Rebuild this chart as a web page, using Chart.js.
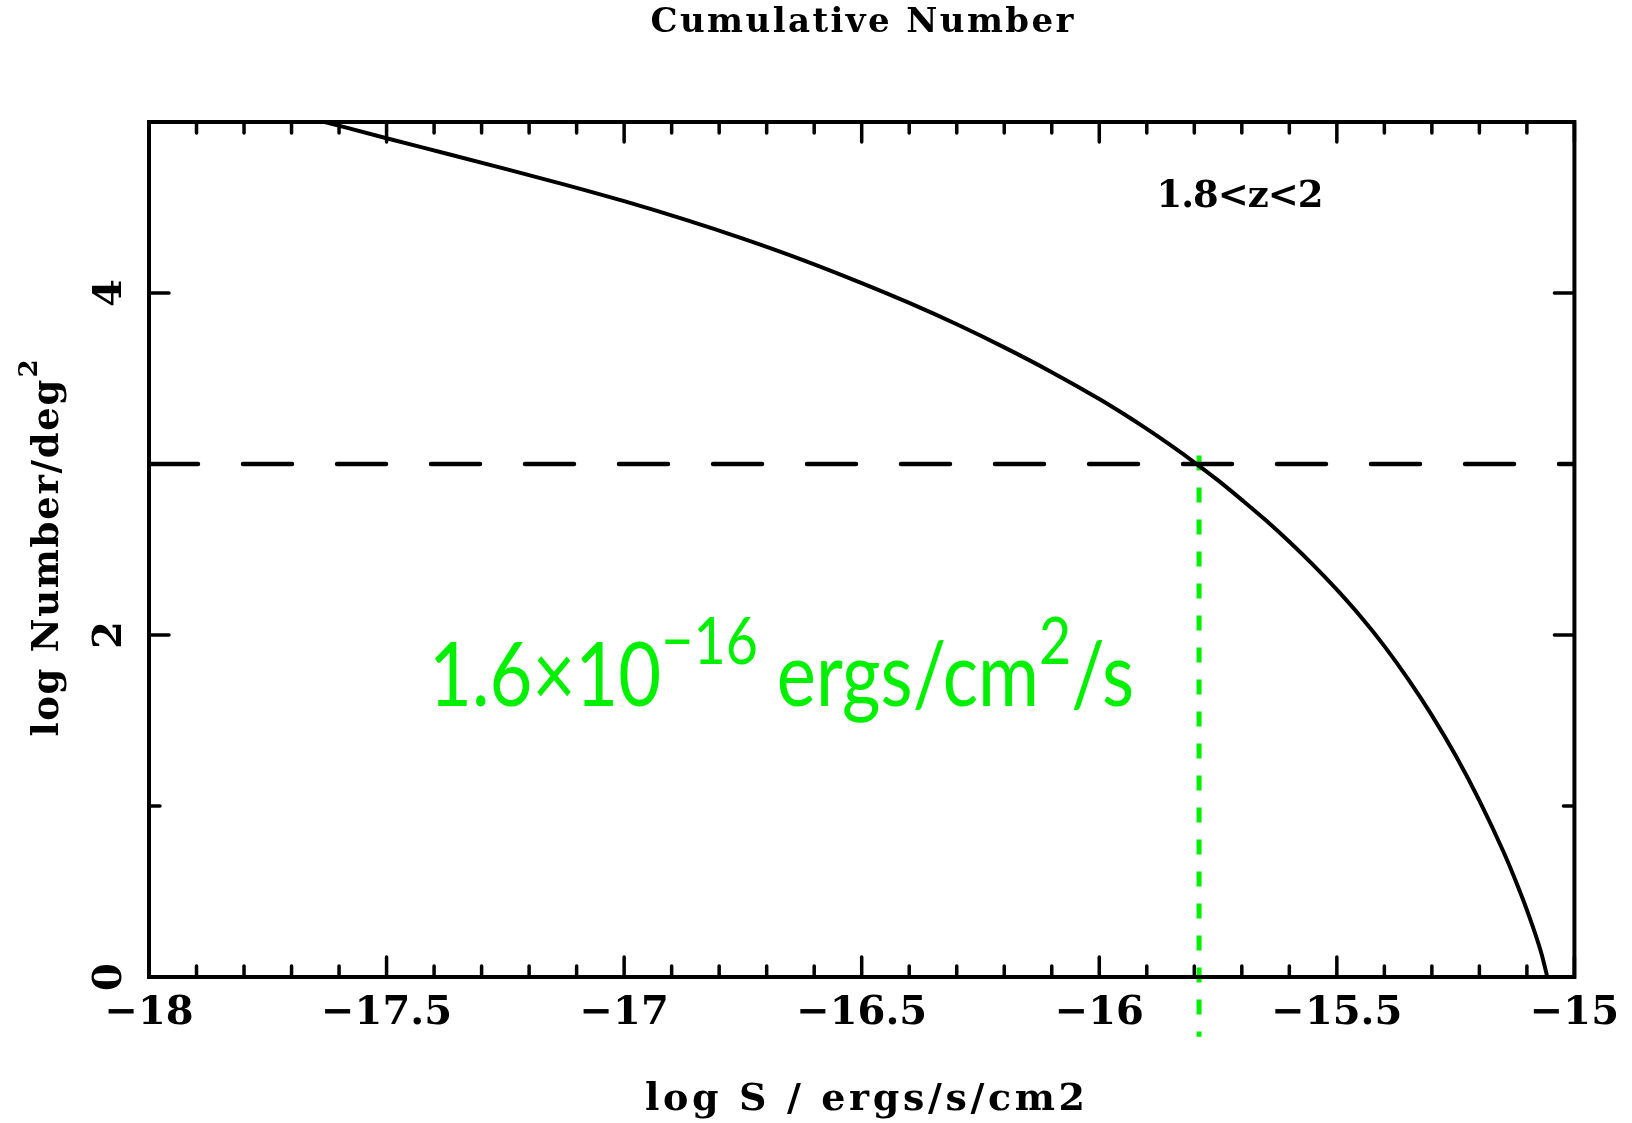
<!DOCTYPE html>
<html lang="en">
<head>
  <meta charset="UTF-8">
  <title>Cumulative Number</title>
  <style>
    html, body { margin: 0; padding: 0; background: #fff; }
    canvas { display: block; }
  </style>
</head>
<body>
  <canvas id="myChart" width="1632" height="1123"></canvas>

  <script src="https://cdn.jsdelivr.net/npm/chart.js"></script>

  <script>
    /* data */
    const logS = [-17.63, -17.5, -17.375, -17.25, -17.125, -17.0, -16.875, -16.75, -16.625, -16.5,
                  -16.4, -16.3, -16.2, -16.1, -16.0, -15.95, -15.9, -15.85, -15.8, -15.75,
                  -15.7, -15.65, -15.6, -15.55, -15.5, -15.45, -15.4, -15.35, -15.3, -15.25,
                  -15.2, -15.15, -15.125, -15.1, -15.07, -15.057];
    const logN = [5.0, 4.905, 4.816, 4.726, 4.634, 4.537, 4.432, 4.318, 4.194, 4.058,
                  3.942, 3.817, 3.682, 3.537, 3.38, 3.295, 3.205, 3.11, 3.01, 2.904,
                  2.79, 2.672, 2.545, 2.41, 2.265, 2.108, 1.935, 1.742, 1.53, 1.295,
                  1.032, 0.737, 0.572, 0.392, 0.143, 0];
    const levelX = [-18, -15];        // dashed line log N = 3
    const levelY = [3, 3];
    const cutX = [-15.79, -15.79];    // 1.6e-16 ergs/cm2/s
    const cutY = [3.05, -0.35];
    const xTickValues = [-18, -17.5, -17, -16.5, -16, -15.5, -15];
    const yTickValues = [0, 2, 4];

    const serif = 'DejaVu Serif';
    const fmt = v => (v < 0 ? '\u2212' : '') + Math.abs(v);

    function fitText(ctx, text, cx, y, width) {
      ctx.letterSpacing = '0px';
      const w = ctx.measureText(text).width;
      const sp = (width - w) / Math.max(text.length - 1, 1);
      ctx.letterSpacing = sp + 'px';
      ctx.textAlign = 'left';
      ctx.fillText(text, cx - width / 2, y);
      ctx.letterSpacing = '0px';
    }

    // inward ticks + box
    const framePlugin = {
      id: 'frame',
      afterDraw(chart) {
        const ctx = chart.ctx;
        const { left, right, top, bottom } = chart.chartArea;
        const xs = chart.scales.x, ys = chart.scales.y;
        ctx.save();
        ctx.strokeStyle = '#000';
        ctx.lineCap = 'round';
        ctx.lineWidth = 3.5;
        ctx.beginPath();
        for (let i = 0; i <= 30; i++) {
          const px = xs.getPixelForValue(-18 + i / 10);
          const len = i % 5 === 0 ? 20 : 11;
          ctx.moveTo(px, bottom); ctx.lineTo(px, bottom - len);
          ctx.moveTo(px, top); ctx.lineTo(px, top + len);
        }
        for (let i = 0; i <= 5; i++) {
          const py = ys.getPixelForValue(i);
          const len = i % 2 === 0 ? 20 : 11;
          ctx.moveTo(left, py); ctx.lineTo(left + len, py);
          ctx.moveTo(right, py); ctx.lineTo(right - len, py);
        }
        ctx.stroke();
        ctx.lineCap = 'butt';
        ctx.lineWidth = 4;
        ctx.strokeRect(left, top, right - left, bottom - top);
        ctx.restore();
      }
    };

    // titles and annotations
    const labelPlugin = {
      id: 'labels',
      afterDraw(chart) {
        const ctx = chart.ctx;
        ctx.save();
        ctx.fillStyle = '#000';
        ctx.textBaseline = 'alphabetic';

        ctx.font = 'bold 34px "' + serif + '"';
        fitText(ctx, 'Cumulative Number', 862, 32, 423);

        ctx.font = 'bold 38px "' + serif + '"';
        fitText(ctx, 'log S / ergs/s/cm2', 865, 1110, 440);

        ctx.font = 'bold 37px "' + serif + '"';
        fitText(ctx, '1.8<z<2', 1240, 207, 167);

        // y title, rotated
        ctx.save();
        ctx.translate(58, 548);
        ctx.rotate(-Math.PI / 2);
        ctx.font = 'bold 26px "' + serif + '"';
        const supW = ctx.measureText('2').width;
        ctx.font = 'bold 37px "' + serif + '"';
        const mainW = 377 - supW - 2;
        fitText(ctx, 'log Number/deg', -377 / 2 + mainW / 2, 0, mainW);
        ctx.font = 'bold 26px "' + serif + '"';
        ctx.textAlign = 'left';
        ctx.fillText('2', -377 / 2 + mainW + 2, -21);
        ctx.restore();

        // green flux annotation
        const segs = [
          { t: '1.6\u00d710', sup: false },
          { t: '\u221216', sup: true },
          { t: ' ergs/cm', sup: false },
          { t: '2', sup: true },
          { t: '/s', sup: false }
        ];
        let big = 89;
        const measure = size => segs.reduce((w, s) => {
          ctx.font = '400 ' + (s.sup ? size * 0.75 : size) + 'px Lato';
          return w + ctx.measureText(s.t).width;
        }, 0);
        let ratio = 705 / measure(big);
        if (ratio < 0.8) { big = big * ratio / 0.8; ratio = 0.8; }
        ctx.save();
        ctx.fillStyle = '#00f000';
        ctx.textAlign = 'left';
        ctx.translate(429, 0);
        ctx.scale(Math.min(ratio, 1), 1);
        let x = 0;
        segs.forEach(s => {
          ctx.font = '400 ' + (s.sup ? big * 0.75 : big) + 'px Lato';
          ctx.fillText(s.t, x, s.sup ? 664 : 706);
          x += ctx.measureText(s.t).width;
        });
        ctx.restore();
        ctx.restore();
      }
    };

    const ctx = document.getElementById('myChart');
    new Chart(ctx, {
      type: 'line',
      data: {
        datasets: [{
          data: logS.map((x, i) => ({ x, y: logN[i] })),
          borderColor: '#000',
          borderWidth: 4,
          pointRadius: 0,
          cubicInterpolationMode: 'monotone'
        }, {
          data: levelX.map((x, i) => ({ x, y: levelY[i] })),
          borderColor: '#000',
          borderWidth: 4.5,
          borderDash: [49, 45],
          borderCapStyle: 'round',
          pointRadius: 0
        }, {
          data: cutX.map((x, i) => ({ x, y: cutY[i] })),
          borderColor: '#00f000',
          borderWidth: 5,
          borderDash: [15, 17],
          pointRadius: 0,
          clip: false
        }]
      },
      options: {
        responsive: false,
        animation: false,
        devicePixelRatio: 1,
        layout: { padding: { top: 122, right: 50, left: 0, bottom: 0 } },
        plugins: { legend: { display: false }, tooltip: { enabled: false } },
        scales: {
          x: {
            type: 'linear',
            min: -18,
            max: -15,
            grid: { display: false, drawTicks: false },
            border: { display: false },
            afterBuildTicks: s => { s.ticks = xTickValues.map(v => ({ value: v })); },
            afterFit: s => { s.height = 146; },
            ticks: {
              padding: 13,
              maxRotation: 0,
              autoSkip: false,
              color: '#000',
              font: { family: serif, weight: 'bold', size: 40 },
              callback: v => fmt(v)
            }
          },
          y: {
            type: 'linear',
            min: 0,
            max: 5,
            grid: { display: false, drawTicks: false },
            border: { display: false },
            afterBuildTicks: s => { s.ticks = yTickValues.map(v => ({ value: v })); },
            afterFit: s => { s.width = 149; },
            ticks: {
              padding: 24,
              minRotation: 90,
              maxRotation: 90,
              crossAlign: 'center',
              autoSkip: false,
              color: '#000',
              font: { family: serif, weight: 'bold', size: 40 },
              callback: v => fmt(v)
            }
          }
        }
      },
      plugins: [framePlugin, labelPlugin]
    });
  </script>
</body>
</html>
